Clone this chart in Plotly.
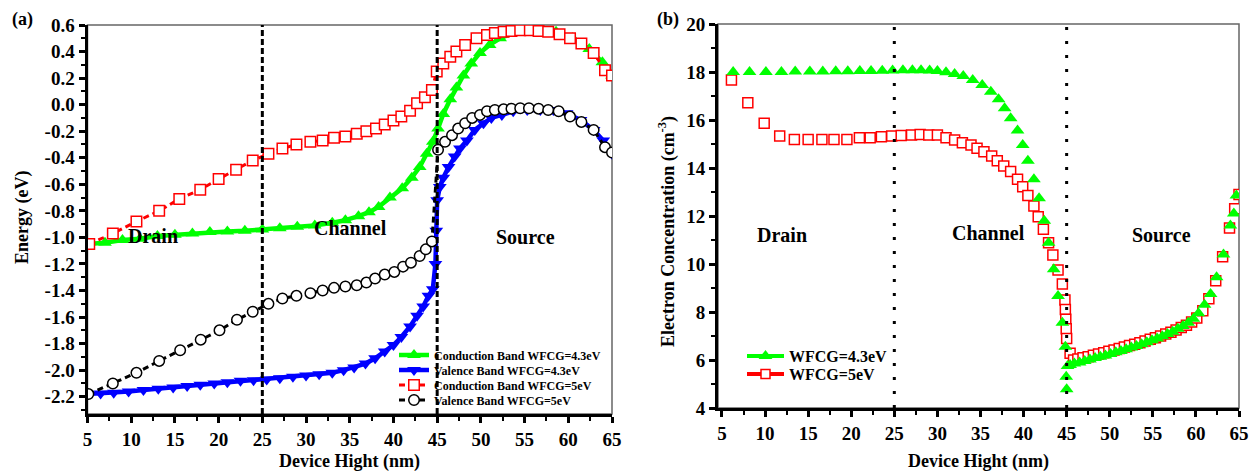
import plotly.graph_objects as go

# ---------------- Panel (a) data ----------------
cb43_x = [5, 7, 9, 11, 13, 15, 17, 19, 21, 23, 25, 27, 29, 31, 33, 34.5, 36, 37.2, 38.3, 39.6, 41.0,
          42.1, 43.0, 43.8, 44.5, 45.1, 45.7, 46.5, 47.2, 48.0, 48.9, 49.9, 51.0, 52.2, 53.7, 55.2,
          56.8, 58.6, 60.5, 62.4, 63.9, 65]
cb43_y = [-1.05, -1.04, -1.02, -1.01, -0.99, -0.98, -0.97, -0.96, -0.955, -0.95, -0.94, -0.93, -0.92,
          -0.91, -0.89, -0.87, -0.84, -0.81, -0.77, -0.70, -0.63, -0.55, -0.47, -0.37, -0.28, -0.18,
          -0.07, 0.04, 0.13, 0.22, 0.31, 0.39, 0.45, 0.50, 0.54, 0.56, 0.56, 0.55, 0.50, 0.42, 0.32, 0.22]

vb43_x = [5, 6.5, 8, 9.7, 11.4, 13.1, 14.8, 16.4, 17.9, 19.5, 21, 22.5, 24, 25.5, 27, 28.5, 30, 31.5,
          33, 34.3, 35.5, 36.8, 37.9, 39.0, 40.0, 40.9, 41.9, 42.7, 43.4, 44.0, 44.5, 44.8, 44.9, 45.0,
          45.3, 45.7, 46.3, 47.0, 47.6, 48.4, 49.3, 50.3, 51.2, 52.4, 53.7, 55.3, 56.8, 58.3, 59.8,
          61.4, 62.9, 64.0, 65]
vb43_y = [-2.18, -2.175, -2.17, -2.16, -2.15, -2.14, -2.13, -2.12, -2.11, -2.10, -2.09, -2.08, -2.075,
          -2.07, -2.06, -2.05, -2.04, -2.03, -2.02, -2.00, -1.98, -1.95, -1.91, -1.86, -1.81, -1.75,
          -1.67, -1.59, -1.52, -1.44, -1.39, -1.20, -0.95, -0.72, -0.62, -0.55, -0.47, -0.39, -0.33,
          -0.27, -0.19, -0.14, -0.10, -0.077, -0.05, -0.04, -0.04, -0.04, -0.065, -0.115, -0.19,
          -0.27, -0.37]

cb5_x = [5.2, 7.9, 10.6, 13.2, 15.5, 17.9, 20.0, 22.0, 23.9, 25.7, 27.3, 28.9, 30.5, 31.9, 33.2, 34.5,
         35.8, 36.9, 38.0, 39.0, 40.0, 40.9, 41.9, 42.7, 43.6, 44.4, 44.95, 45.7, 46.5, 47.2, 48.2,
         49.5, 50.7, 51.6, 52.6, 53.5, 54.5, 55.6, 56.6, 57.7, 59.0, 60.2, 61.5, 62.9, 64.2, 65]
cb5_y = [-1.05, -0.97, -0.88, -0.80, -0.71, -0.64, -0.56, -0.49, -0.42, -0.37, -0.33, -0.30, -0.28,
         -0.27, -0.25, -0.24, -0.22, -0.20, -0.18, -0.15, -0.12, -0.09, -0.045, 0.01, 0.056, 0.11,
         0.25, 0.31, 0.36, 0.40, 0.45, 0.50, 0.525, 0.54, 0.55, 0.555, 0.56, 0.56, 0.555, 0.55,
         0.53, 0.50, 0.46, 0.39, 0.26, 0.22]

vb5_x = [5.1, 7.9, 10.6, 13.2, 15.6, 17.95, 20.1, 22.1, 23.9, 25.7, 27.3, 28.9, 30.5, 31.9, 33.2,
         34.5, 35.8, 36.9, 37.9, 39.0, 40.1, 41.1, 42.0, 43.0, 43.7, 44.4, 45.1, 45.9, 46.7, 47.4,
         48.2, 49.0, 49.9, 50.7, 51.6, 52.6, 53.5, 54.5, 55.5, 56.6, 57.7, 58.9, 60.2, 61.5, 62.9,
         64.2, 65]
vb5_y = [-2.18, -2.10, -2.02, -1.93, -1.85, -1.77, -1.70, -1.62, -1.56, -1.50, -1.46, -1.44, -1.42,
         -1.40, -1.38, -1.37, -1.36, -1.34, -1.31, -1.28, -1.26, -1.22, -1.19, -1.14, -1.09, -1.03,
         -0.34, -0.28, -0.23, -0.18, -0.14, -0.10, -0.077, -0.05, -0.04, -0.035, -0.03, -0.027,
         -0.027, -0.03, -0.04, -0.05, -0.09, -0.13, -0.19, -0.32, -0.36]

# ---------------- Panel (b) data ----------------
ne43_x = [6.3, 8.2, 10.1, 11.9, 13.5, 15.2, 16.7, 18.2, 19.6, 21.0, 22.3, 23.6, 24.8, 26.0, 27.1,
          28.1, 29.1, 30.0, 31.0, 32.0, 33.0, 34.1, 35.2, 36.2, 37.1, 37.8, 38.5, 39.3, 39.9, 40.5,
          41.2, 41.8, 42.4, 42.9, 43.5, 44.0, 44.5, 44.85, 44.95, 45.0,
          45.1, 45.4, 45.9, 46.5, 47.1, 47.7, 48.3, 48.9, 49.5, 50.1, 50.7, 51.3, 51.9, 52.5, 53.1,
          53.7, 54.3, 54.9, 55.5, 56.1, 56.7, 57.3, 57.9, 58.5, 59.1, 59.7, 60.3, 61.0, 61.7, 62.4,
          63.2, 64.0, 64.4, 64.7]
ne43_y = [18.0, 18.0, 18.0, 18.0, 18.02, 18.02, 18.02, 18.03, 18.03, 18.04, 18.04, 18.05, 18.06,
          18.07, 18.07, 18.07, 18.06, 18.04, 17.99, 17.92, 17.83, 17.67, 17.46, 17.18, 16.86, 16.49,
          16.07, 15.56, 14.96, 14.30, 13.53, 12.74, 11.80, 10.89, 9.78, 8.67, 7.55, 6.55, 5.30, 4.78,
          5.75, 5.79, 5.85, 5.90, 5.96, 6.02, 6.08, 6.14, 6.19, 6.25, 6.32, 6.38, 6.45, 6.52, 6.58,
          6.66, 6.74, 6.82, 6.90, 6.99, 7.08, 7.18, 7.30, 7.42, 7.55, 7.72, 7.95, 8.30, 8.75, 9.45,
          10.4, 11.6, 12.1, 12.85]

ne5_x = [6.1, 8.0, 9.9, 11.7, 13.4, 15.0, 16.6, 18.0, 19.5, 20.95, 22.2, 23.5, 24.7, 25.8, 27.0,
         28.0, 29.0, 30.0, 31.0, 32.0, 32.9, 33.9, 34.6, 35.4, 36.3, 36.95, 37.7, 38.5, 39.3, 39.9,
         40.5, 41.2, 41.7, 42.3, 42.9, 43.4, 44.0, 44.5, 44.8, 44.85, 44.9, 44.95, 45.0, 45.4,
         45.8, 46.3, 46.9, 47.5, 48.1, 48.7, 49.3, 49.9, 50.5, 51.1, 51.7, 52.3, 52.9, 53.5, 54.1,
         54.7, 55.3, 55.9, 56.5, 57.1, 57.7, 58.3, 58.9, 59.5, 60.1, 60.8, 61.5, 62.3, 63.1, 63.9,
         64.5, 65.0]
ne5_y = [17.67, 16.72, 15.86, 15.33, 15.19, 15.19, 15.19, 15.19, 15.19, 15.26, 15.26, 15.30, 15.33,
         15.35, 15.38, 15.40, 15.38, 15.38, 15.26, 15.17, 15.05, 14.96, 14.82, 14.68, 14.50, 14.30,
         14.08, 13.85, 13.53, 13.22, 12.85, 12.42, 11.97, 11.45, 10.89, 10.38, 9.75, 9.17, 8.50,
         8.10, 7.70, 7.30, 6.90, 6.28,
         6.00, 6.04, 6.09, 6.14, 6.20, 6.25, 6.30, 6.36, 6.42, 6.48, 6.54, 6.60, 6.66, 6.72, 6.79,
         6.86, 6.93, 7.00, 7.08, 7.16, 7.25, 7.35, 7.45, 7.58, 7.75, 8.05, 8.55, 9.30, 10.3, 11.5,
         12.3, 12.9]

# tick labels
a_x_ticks = [5, 10, 15, 20, 25, 30, 35, 40, 45, 50, 55, 60, 65]
a_y_vals = [0.6, 0.4, 0.2, 0.0, -0.2, -0.4, -0.6, -0.8, -1.0, -1.2, -1.4, -1.6, -1.8, -2.0, -2.2]
a_y_text = ["0.6", "0.4", "0.2", "0.0", "-0.2", "-0.4", "-0.6", "-0.8", "-1.0", "-1.2", "-1.4",
            "-1.6", "-1.8", "-2.0", "-2.2"]
b_y_vals = [4, 6, 8, 10, 12, 14, 16, 18, 20]
regions = ["Drain", "Channel", "Source"]
boundaries = [25, 45]

FONT = "Liberation Serif, Times New Roman, serif"
# page body has an 8px margin: size figure to fill the remaining window
OFF = 8
W, H = 1258 - OFF, 473 - OFF


def fx(px):  # reference window pixel -> paper x
    return (px - OFF) / W


def fy(py):  # reference window pixel -> paper y
    return (H - (py - OFF)) / H


fig = go.Figure()

# Panel (a) traces, each with its own one-row legend
fig.add_trace(go.Scatter(x=cb43_x, y=cb43_y, mode="lines+markers", name="Conduction Band WFCG=4.3eV",
                         line=dict(color="#00ff00", width=4.5),
                         marker=dict(symbol="triangle-up", size=12, color="#00ff00"),
                         xaxis="x", yaxis="y", legend="legend"))
fig.add_trace(go.Scatter(x=vb43_x, y=vb43_y, mode="lines+markers", name="Valence Band WFCG=4.3eV",
                         line=dict(color="#0000ff", width=4.5),
                         marker=dict(symbol="triangle-down", size=12, color="#0000ff"),
                         xaxis="x", yaxis="y", legend="legend3"))
fig.add_trace(go.Scatter(x=cb5_x, y=cb5_y, mode="lines+markers", name="Conduction Band WFCG=5eV",
                         line=dict(color="#ff0000", width=3, dash="6px,4px"),
                         marker=dict(symbol="square", size=10.5, color="white",
                                     line=dict(color="#ff0000", width=1.5)),
                         xaxis="x", yaxis="y", legend="legend4"))
fig.add_trace(go.Scatter(x=vb5_x, y=vb5_y, mode="lines+markers", name="Valence Band WFCG=5eV",
                         line=dict(color="#000000", width=3, dash="6px,4px"),
                         marker=dict(symbol="circle", size=10.5, color="white",
                                     line=dict(color="#000000", width=1.5)),
                         xaxis="x", yaxis="y", legend="legend5"))

# Panel (b) traces (markers), red below green
fig.add_trace(go.Scatter(x=ne5_x, y=ne5_y, mode="markers", name="WFCG=5eV", showlegend=False,
                         marker=dict(symbol="square", size=10, color="white",
                                     line=dict(color="#ff0000", width=1.5)),
                         xaxis="x2", yaxis="y2"))
fig.add_trace(go.Scatter(x=ne43_x, y=ne43_y, mode="markers", name="WFCG=4.3eV", showlegend=False,
                         marker=dict(symbol="triangle-up", size=12, color="#00ff00"),
                         xaxis="x2", yaxis="y2"))
# legend entries for (b)
fig.add_trace(go.Scatter(x=[None], y=[None], mode="lines+markers", name="WFCG=4.3eV",
                         line=dict(color="#00ff00", width=4),
                         marker=dict(symbol="triangle-up", size=12, color="#00ff00"),
                         xaxis="x2", yaxis="y2", legend="legend2"))
fig.add_trace(go.Scatter(x=[None], y=[None], mode="lines+markers", name="WFCG=5eV",
                         line=dict(color="#ff0000", width=4),
                         marker=dict(symbol="square", size=9, color="white",
                                     line=dict(color="#ff0000", width=1.5)),
                         xaxis="x2", yaxis="y2", legend="legend6"))

axis_common = dict(showline=True, linecolor="black", linewidth=3, ticks="outside", ticklen=6,
                   tickwidth=2.5, tickcolor="black", showgrid=False, zeroline=False, automargin=False,
                   tickfont=dict(family=FONT, size=19, color="black", weight="bold"))
minor_common = dict(ticks="outside", ticklen=4, tickwidth=2, tickcolor="black")


def leg(xpx, ypx, size, iw=30):
    return dict(x=fx(xpx), y=fy(ypx), xanchor="left", yanchor="middle",
                bgcolor="rgba(0,0,0,0)", borderwidth=0, itemwidth=iw,
                font=dict(family=FONT, size=size, color="black", weight="bold"))


fig.update_layout(
    template="none",
    width=W, height=H, margin=dict(l=0, r=0, t=0, b=0, pad=0, autoexpand=False),
    paper_bgcolor="white", plot_bgcolor="white", showlegend=True,
    xaxis=dict(domain=[fx(87.5), fx(612)], range=[5, 65], anchor="y",
               tickvals=a_x_ticks, minor=dict(dtick=2.5, tick0=5, **minor_common), **axis_common),
    yaxis=dict(domain=[fy(414), fy(25)], range=[-2.33, 0.6], anchor="x",
               tickvals=a_y_vals, ticktext=a_y_text,
               minor=dict(dtick=0.1, tick0=0, **minor_common), **axis_common),
    xaxis2=dict(domain=[fx(718), fx(1239)], range=[4.54, 65], anchor="y2",
                tickvals=a_x_ticks, minor=dict(dtick=2.5, tick0=5, **minor_common), **axis_common),
    yaxis2=dict(domain=[fy(408), fy(24)], range=[4, 20], anchor="x2",
                tickvals=b_y_vals, minor=dict(dtick=1, tick0=0, **minor_common), **axis_common),
    legend=leg(394, 355, 12),
    legend3=leg(394, 370, 12),
    legend4=leg(394, 385, 12),
    legend5=leg(394, 400, 12),
    legend2=leg(742, 356, 16, 37),
    legend6=leg(742, 374, 16, 37),
)

# frames (thin gray) for both panels
for xr, yr in [("x domain", "y domain"), ("x2 domain", "y2 domain")]:
    fig.add_shape(type="rect", xref=xr, yref=yr, x0=0, x1=1, y0=0, y1=1,
                  line=dict(color="#666666", width=1.5), layer="below")

# region boundaries
for b in boundaries:
    fig.add_shape(type="line", xref="x", yref="y domain", x0=b, x1=b, y0=0, y1=1,
                  line=dict(color="black", width=3, dash="6px,3px"))
    fig.add_shape(type="line", xref="x2", yref="y2 domain", x0=b, x1=b, y0=0, y1=1,
                  line=dict(color="black", width=3, dash="3px,11px"))

lab_font = dict(family=FONT, size=20, color="black", weight="bold")
# region labels (a)
for txt, xv, yv in zip(regions, [12.5, 35.1, 55.1], [-0.99, -0.93, -0.995]):
    fig.add_annotation(text=txt, x=xv, y=yv, xref="x", yref="y", showarrow=False, font=lab_font,
                       xanchor="center", yanchor="middle")
# region labels (b)
for txt, xv, yv in zip(regions, [12.0, 35.9, 56.0], [11.21, 11.29, 11.21]):
    fig.add_annotation(text=txt, x=xv, y=yv, xref="x2", yref="y2", showarrow=False, font=lab_font,
                       xanchor="center", yanchor="middle")

title_font = dict(family=FONT, size=18, color="black", weight="bold")
paper_texts = [
    ("Device Hight (nm)", (87.5 + 612) / 2, 461, 0, title_font),
    ("Device Hight (nm)", (718 + 1239) / 2, 461, 0, title_font),
    ("Energy (eV)", 22, 218, -90, title_font),
    ("Electron Concentration (cm<sup>-3</sup>)", 667, 232, -90, title_font),
    ("(a)", 22, 19, 0, dict(family=FONT, size=18, color="black", weight="bold")),
    ("(b)", 668, 19, 0, dict(family=FONT, size=18, color="black", weight="bold")),
]
for txt, px, py, ang, fnt in paper_texts:
    fig.add_annotation(text=txt, x=fx(px), y=fy(py), xref="paper", yref="paper", showarrow=False,
                       font=fnt, textangle=ang, xanchor="center", yanchor="middle")

fig.write_html("out.html")
